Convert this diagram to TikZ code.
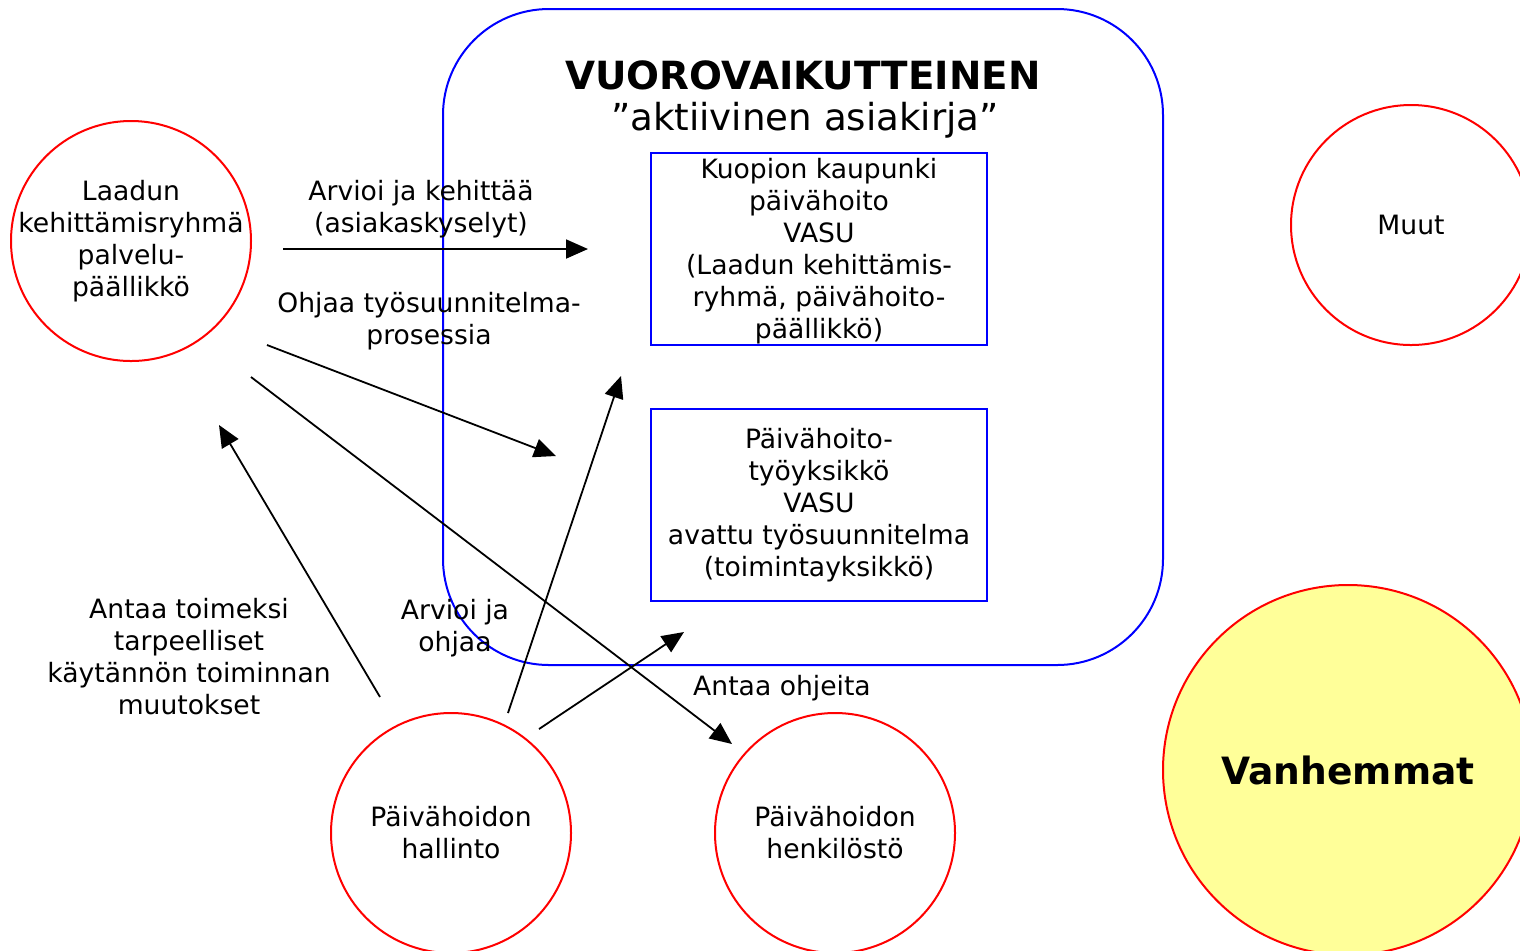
\documentclass[tikz,border=0pt]{standalone}
\usepackage{fontspec}
\setmainfont{DejaVu Sans}
\usetikzlibrary{arrows.meta}
\definecolor{pale}{RGB}{255,255,153}
\tikzset{
  txt/.style={font=\fontsize{13.3}{16}\selectfont, align=center, inner sep=0pt},
  actor/.style={circle, draw=red, line width=1pt, minimum size=120pt, inner sep=0pt},
  doc/.style={rectangle, draw=blue, line width=0.9pt, minimum width=168pt, minimum height=96pt, inner sep=0pt, txt},
  arr/.style={line width=0.9pt, -{Triangle[length=11pt,width=9.5pt]}}
}
\begin{document}
\begin{tikzpicture}[x=0.5pt,y=-0.5pt]
\useasboundingbox (0,0) rectangle (1520,950);
\clip (0,0) rectangle (1520,950);
% main frame
\draw[blue, line width=1pt, rounded corners=53pt] (443,9) rectangle (1163,665);
\node[txt, font=\fontsize{19.4}{22}\selectfont\bfseries] (title) at (803,75) {VUOROVAIKUTTEINEN};
\node[txt, font=\fontsize{18.6}{22}\selectfont] (subtitle) at (805,120) {”aktiivinen asiakirja”};
% documents
\node[doc] (kuopio) at (819,249) {};
\node[txt] (kuopiot) at (819,251) {Kuopion kaupunki\\päivähoito\\VASU\\(Laadun kehittämis-\\ryhmä, päivähoito-\\päällikkö)};
\node[doc] (tyoyks) at (819,505) {Päivähoito-\\työyksikkö\\VASU\\avattu työsuunnitelma\\(toimintayksikkö)};
% actors
\node[actor, label={[txt]center:{Laadun\\kehittämisryhmä\\palvelu-\\päällikkö}}] (laadun) at (131,241) {};
\node[actor, label={[txt]center:{Muut}}] (muut) at (1411,225) {};
\node[actor, label={[txt]center:{Päivähoidon\\hallinto}}] (hallinto) at (451,833) {};
\node[actor, label={[txt]center:{Päivähoidon\\henkilöstö}}] (henk) at (835,833) {};
\node[circle, draw=red, fill=pale, line width=1pt, minimum size=185pt, inner sep=0pt,
      font=\fontsize{18.8}{22}\selectfont\bfseries] (vanh) at (1348,770) {Vanhemmat};
% labels
\node[txt] (l1) at (421,209) {Arvioi ja kehittää\\(asiakaskyselyt)};
\node[txt] (l2) at (429,321) {Ohjaa työsuunnitelma-\\prosessia};
\node[txt] (l3) at (189,657) {Antaa toimeksi\\tarpeelliset\\käytännön toiminnan\\muutokset};
\node[txt] (l4) at (455,628) {Arvioi ja\\ohjaa};
\node[txt] (l5) at (782,688) {Antaa ohjeita};
% arrow end points
\coordinate (a1s) at (283,249); \coordinate (a1e) at (588,249);
\coordinate (a2s) at (267,345); \coordinate (a2e) at (556,456);
\coordinate (a3s) at (251,377); \coordinate (a3e) at (732,744);
\coordinate (a4s) at (380,697); \coordinate (a4e) at (219,425);
\coordinate (a5s) at (508,713); \coordinate (a5e) at (621,376);
\coordinate (a6s) at (539,729); \coordinate (a6e) at (684,632);
\draw[arr] (a1s) -- (a1e);
\draw[arr] (a2s) -- (a2e);
\draw[arr] (a3s) -- (a3e);
\draw[arr] (a4s) -- (a4e);
\draw[arr] (a5s) -- (a5e);
\draw[arr] (a6s) -- (a6e);
\end{tikzpicture}
\end{document}
